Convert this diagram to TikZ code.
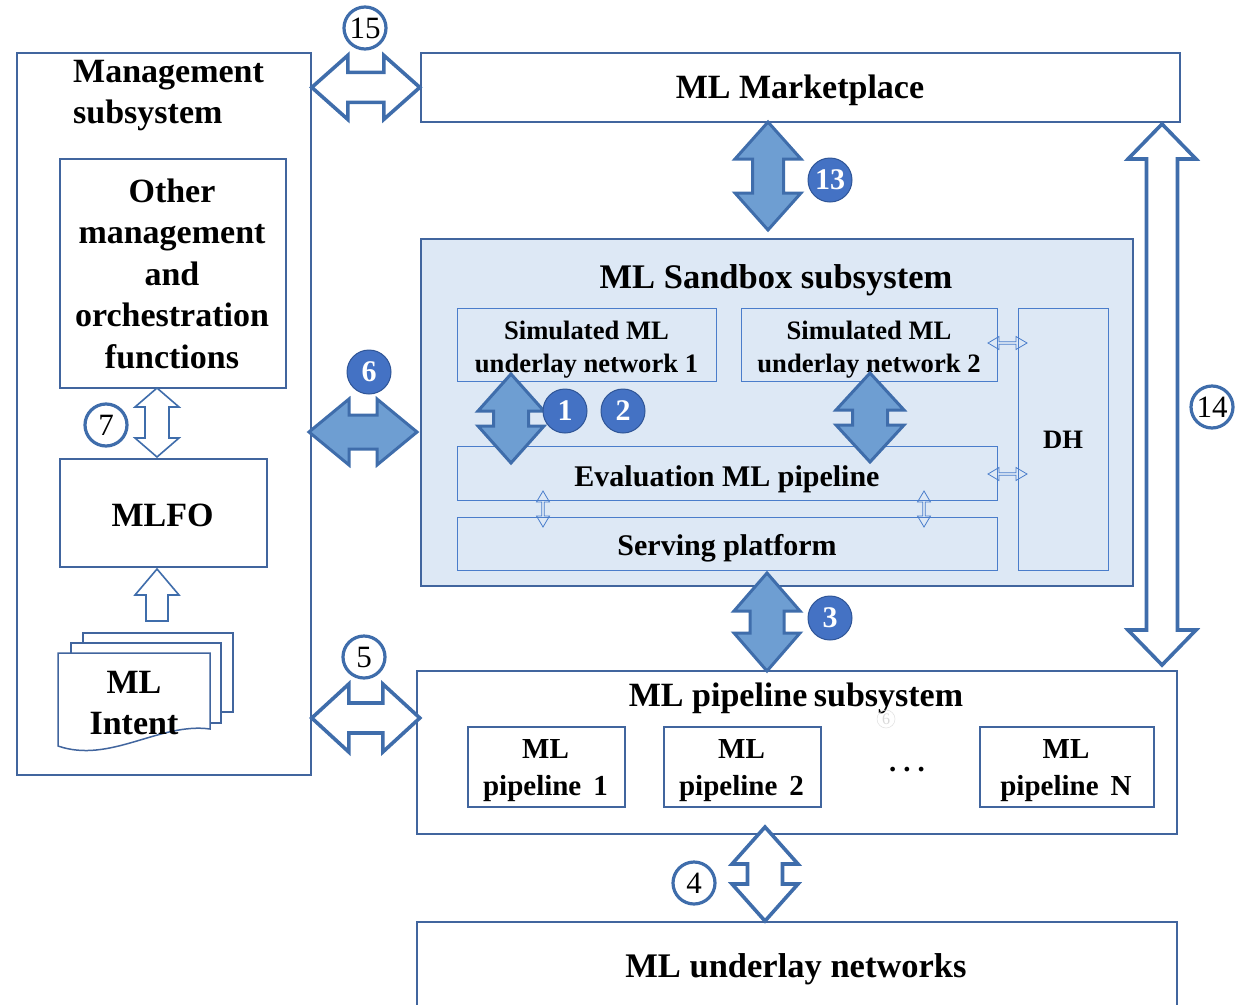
\documentclass[tikz,border=0pt]{standalone}
\usepackage{fontspec}
\setmainfont{Liberation Serif}
\usetikzlibrary{calc}

\definecolor{frame}{HTML}{41659E}
\definecolor{inner}{HTML}{4A7DCB}
\definecolor{sandfill}{HTML}{DDE8F5}
\definecolor{arrowfill}{HTML}{6E9ED2}
\definecolor{arrowline}{HTML}{3F6DAB}
\definecolor{badge}{HTML}{4472C4}
\definecolor{badgeline}{HTML}{2F5597}

\newcommand\fs[2]{\fontsize{#1}{#2}\selectfont}

% block double arrow: style, start point, angle, length, head half-width,
% shaft half-width, head length
\newcommand\dblarrow[7]{%
  \path[#1, shift={#2}, rotate=#3]
    (0,0) -- (#7,#5) -- (#7,#6) -- ({#4-#7},#6) -- ({#4-#7},#5) -- (#4,0)
    -- ({#4-#7},-#5) -- ({#4-#7},-#6) -- (#7,-#6) -- (#7,-#5) -- cycle;}

\tikzset{
  box/.style={draw=frame, line width=1.8pt, fill=white, inner sep=0pt, anchor=north west},
  subbox/.style={draw=inner, line width=1.4pt, fill=sandfill, inner sep=0pt, anchor=north west},
  big/.style={font=\fs{34}{41.5}\bfseries, align=center, inner sep=0pt},
  mid/.style={font=\fs{30}{36}\bfseries, align=center, inner sep=0pt},
  small/.style={font=\fs{26.6}{33}\bfseries, align=center, inner sep=0pt},
  pipetext/.style={font=\fs{29}{37}\bfseries, align=center, inner sep=0pt},
  solidarrow/.style={fill=arrowfill, draw=arrowline, line width=3pt, line join=miter},
  hollowarrow/.style={fill=white, draw=arrowline, line width=3.6pt, line join=miter},
  thinhollow/.style={fill=white, draw=arrowline, line width=1.6pt, line join=miter},
  hairarrow/.style={fill=none, draw=inner, line width=0.8pt, line join=miter},
  badgefill/.style={circle, fill=badge, draw=badgeline, line width=1pt, minimum size=44pt,
    inner sep=0pt, text=white, font=\fs{30}{30}\bfseries},
  badgering/.style={circle, draw=arrowline, line width=3.2pt, fill=white, minimum size=42pt,
    inner sep=0pt, font=\fs{31}{31}},
  docpage/.style={draw=frame, line width=1.5pt, fill=white},
}

\begin{document}
\begin{tikzpicture}[x=1pt,y=-1pt]
\useasboundingbox (0,0) rectangle (1236,1004);
\clip (0,0) rectangle (1236,1004);

% ---- management subsystem ----
\node[box, minimum width=294pt, minimum height=722pt] (mgmt) at (16,52) {};
\node[big, align=left, anchor=north west] (mgmttitle) at (73,60) {Management\\subsystem};
\node[box, minimum width=226pt, minimum height=229pt] (other) at (59,158) {};
\node[big] (othertext) at (172,273.5) {Other\\management\\and\\orchestration\\functions};
\node[box, minimum width=207pt, minimum height=108pt] (mlfo) at (59,458) {};
\node[big] (mlfotext) at (162.5,515) {MLFO};

% ML intent document stack
\draw[docpage] (83,633) rectangle (233,712);
\draw[docpage] (71,643) rectangle (221,723);
\draw[docpage] (58,653) -- (210,653) -- (210,729)
  .. controls (160,722) and (110,764) .. (58,746) -- cycle;
\node[big] (intent) at (134,703) {ML\\Intent};

% ---- marketplace ----
\node[box, minimum width=759pt, minimum height=69pt] (market) at (420,52) {};
\node[big] (markettext) at (800,90.5) {ML Marketplace};

% ---- sandbox subsystem ----
\node[box, fill=sandfill, minimum width=712pt, minimum height=347pt] (sandbox) at (420,238) {};
\node[font=\fs{34.5}{34.5}\bfseries, inner sep=0pt] (sandtitle) at (776,280) {ML Sandbox subsystem};
\node[subbox, minimum width=259pt, minimum height=73pt] (sim1) at (457,308) {};
\node[small] (sim1text) at (586.5,349.5) {Simulated ML\\underlay network 1};
\node[subbox, minimum width=256pt, minimum height=73pt] (sim2) at (741,308) {};
\node[small] (sim2text) at (869,349.5) {Simulated ML\\underlay network 2};
\node[subbox, minimum width=90pt, minimum height=262pt] (dh) at (1018,308) {};
\node[small] (dhtext) at (1063,440) {DH};
\node[subbox, minimum width=540pt, minimum height=54pt] (eval) at (457,446) {};
\node[mid] (evaltext) at (727,479) {Evaluation ML pipeline};
\node[subbox, minimum width=540pt, minimum height=53pt] (serve) at (457,517) {};
\node[mid] (servetext) at (727,548.5) {Serving platform};

% ---- pipeline subsystem ----
\node[box, minimum width=760pt, minimum height=163pt] (pipe) at (416,670) {};
\node[font=\fs{34}{34}\bfseries, inner sep=0pt] (pipetitle) at (796,698)
  {ML pipeline\hspace{-2pt} subsystem};
\node[box, minimum width=157pt, minimum height=80pt] (p1) at (467,726) {};
\node[pipetext] (p1text) at (545.5,771) {ML\\pipeline\, 1};
\node[box, minimum width=157pt, minimum height=80pt] (p2) at (663,726) {};
\node[pipetext] (p2text) at (741.5,771) {ML\\pipeline\, 2};
\node[box, minimum width=174pt, minimum height=80pt] (pN) at (979,726) {};
\node[pipetext] (pNtext) at (1066,771) {ML\\pipeline\, N};
\node[font=\fs{29}{29}\bfseries] (dots) at (907,770) {.\hspace{7pt}.\hspace{7pt}.};
\node[circle, draw=black!12, line width=0.5pt, minimum size=18pt, inner sep=0pt,
  text=black!15, font=\fs{16}{16}] (ghost) at (886,719) {6};

% ---- underlay networks ----
\node[box, minimum width=760pt, minimum height=110pt] (under) at (416,921) {};
\node[font=\fs{34.5}{34.5}\bfseries, inner sep=0pt] (undertitle) at (796,969) {ML underlay networks};

% ---- fine links inside the sandbox ----
\dblarrow{hairarrow}{(988,343)}{0}{39}{6.5}{1.3}{11}
\dblarrow{hairarrow}{(988,474)}{0}{39}{6.5}{1.3}{11}
\dblarrow{hairarrow}{(924,491)}{-90}{36}{6.5}{1.3}{11}
\dblarrow{hairarrow}{(543,491)}{-90}{36}{6.5}{1.3}{11}

% ---- block arrows ----
\dblarrow{hollowarrow}{(mgmt.east |- market.west)}{0}{108}{32}{15}{36}
\dblarrow{solidarrow}{(309,432)}{0}{108}{33}{17}{40}
\dblarrow{hollowarrow}{(mgmt.east |- 0,718)}{0}{108}{34}{15}{37}
\dblarrow{solidarrow}{(768,122)}{-90}{108}{33}{15.5}{37}
\dblarrow{solidarrow}{(511,374)}{-90}{89}{33}{17.5}{37}
\dblarrow{solidarrow}{(870,373)}{-90}{89}{34}{17.5}{37}
\dblarrow{solidarrow}{(767,573)}{-90}{98}{33}{17}{38}
\dblarrow{hollowarrow}{(765,827)}{-90}{94}{33}{17.5}{37}
\dblarrow{hollowarrow}{(1162,124)}{-90}{541}{34}{15.5}{35}
\dblarrow{thinhollow}{(157,388)}{-90}{69}{22}{12}{19}
% single arrow from the intent stack up to the MLFO
\path[thinhollow] (157,569) -- (179,595) -- (168,595) -- (168,621) -- (146,621)
  -- (146,595) -- (135,595) -- cycle;

% ---- reference numbers ----
\node[badgering] (n15) at (365,28) {15};
\node[badgefill] (n13) at (830,180) {13};
\node[badgefill] (n6) at (369,372) {6};
\node[badgefill] (n1) at (565,411) {1};
\node[badgefill] (n2) at (623,411) {2};
\node[badgering] (n7) at (106,425) {7};
\node[badgering] (n14) at (1212,407) {14};
\node[badgefill] (n3) at (830,618) {3};
\node[badgering] (n5) at (364,657) {5};
\node[badgering] (n4) at (694,883) {4};
\end{tikzpicture}
\end{document}
